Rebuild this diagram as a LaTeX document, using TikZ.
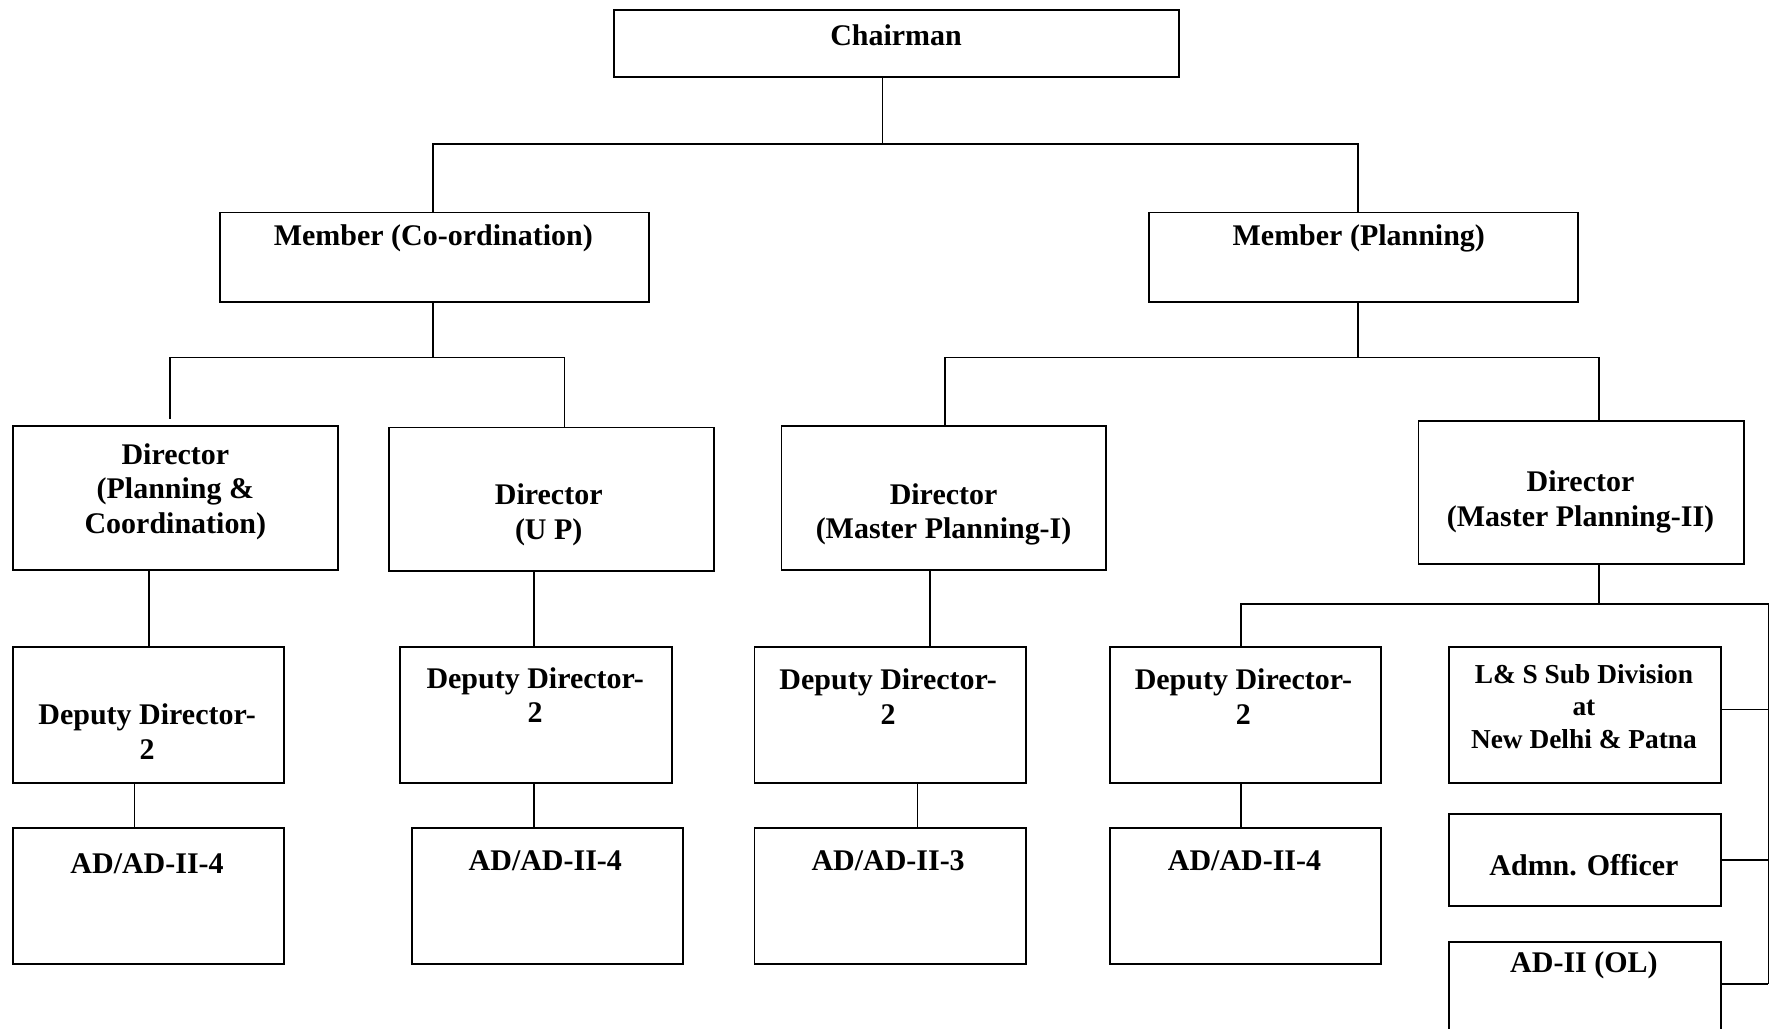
\documentclass[tikz,border=0pt]{standalone}
\usepackage{fontspec}
\setmainfont{Liberation Serif}
\begin{document}
\begin{tikzpicture}[x=1pt,y=-1pt,
  box/.style={draw, line width=1.6pt, anchor=north west, inner sep=0pt},
  txt/.style={font=\fontsize{26.5}{30.5}\selectfont\bfseries, align=center, inner sep=0pt, yshift=-3pt},
  flattxt/.style={font=\fontsize{26.5}{30.5}\selectfont\bfseries, align=center, inner sep=0pt},
  smalltxt/.style={font=\fontsize{24.2}{28.5}\selectfont\bfseries, align=center, inner sep=0pt, yshift=-2pt},
  conn/.style={line width=1.5pt}]
\useasboundingbox (0,0) rectangle (1568,909.5);
% boxes
\node[box, minimum width=499pt, minimum height=59pt] (chair) at (542,8) {};
\node[box, minimum width=379pt, minimum height=79pt] (mco) at (194,187) {};
\node[box, minimum width=379pt, minimum height=79pt] (mpl) at (1015,187) {};
\node[box, minimum width=287pt, minimum height=127pt] (dpc) at (11,376) {};
\node[box, minimum width=287pt, minimum height=127pt] (dup) at (343,377) {};
\node[box, minimum width=287pt, minimum height=127pt] (dmp1) at (690,376) {};
\node[box, minimum width=288pt, minimum height=127pt] (dmp2) at (1253,371) {};
\node[box, minimum width=239pt, minimum height=120pt] (dd1) at (11,571) {};
\node[box, minimum width=240pt, minimum height=120pt] (dd2) at (353,571) {};
\node[box, minimum width=240pt, minimum height=120pt] (dd3) at (666,571) {};
\node[box, minimum width=240pt, minimum height=120pt] (dd4) at (980,571) {};
\node[box, minimum width=239pt, minimum height=120pt] (ad1) at (11,731) {};
\node[box, minimum width=240pt, minimum height=120pt] (ad2) at (363,731) {};
\node[box, minimum width=240pt, minimum height=120pt] (ad3) at (666,731) {};
\node[box, minimum width=240pt, minimum height=120pt] (ad4) at (980,731) {};
\node[box, minimum width=240pt, minimum height=120pt] (ls) at (1280,571) {};
\node[box, minimum width=240pt, minimum height=81pt] (adm) at (1280,719) {};
\node[box, minimum width=240pt, minimum height=80pt] (ol) at (1280,832) {};
% texts
\node[flattxt] (tchair) at (792,31) {Chairman};
\node[txt] (tmco) at (383,208) {Member (Co-ordination)};
\node[txt] (tmpl) at (1201,208) {Member (Planning)};
\node[txt] (tdpc) at (155,431.5) {Director\\(Planning \&\\Coordination)};
\node[txt] (tdup) at (485,452) {Director\\(U P)};
\node[txt] (tdmp1) at (834,451.5) {Director\\(Master Planning-I)};
\node[txt] (tdmp2) at (1397,440.5) {Director\\(Master Planning-II)};
\node[txt] (tdd1) at (130,643.5) {Deputy Director-\\2};
\node[txt] (tdd2) at (473,611.5) {Deputy Director-\\2};
\node[txt] (tdd3) at (785,612.5) {Deputy Director-\\2};
\node[txt] (tdd4) at (1099,612.5) {Deputy Director-\\2};
\node[flattxt] (tad1) at (130,763) {AD/AD-II-4};
\node[flattxt] (tad2) at (482,761) {AD/AD-II-4};
\node[flattxt] (tad3) at (785,761) {AD/AD-II-3};
\node[flattxt] (tad4) at (1100,761) {AD/AD-II-4};
\node[smalltxt] (tls) at (1400,622.5) {L\& S Sub Division\\at\\New Delhi \& Patna};
\node[flattxt] (tadm) at (1400,765) {Admn. Officer};
\node[txt] (tol) at (1400,850) {AD-II (OL)};
% junction coordinates
\coordinate (j1) at (780,127);
\coordinate (jL) at (383,127);
\coordinate (jR) at (1200,127);
\coordinate (k1) at (383,316);
\coordinate (kL) at (150,316);
\coordinate (kLe) at (150,370);
\coordinate (kR) at (499,316);
\coordinate (m1) at (1200,316);
\coordinate (mL) at (835,316);
\coordinate (mR) at (1413,316);
\coordinate (n1) at (1413,534);
\coordinate (nL) at (1097,534);
\coordinate (nR) at (1563,534);
\coordinate (nB) at (1563,870);
\coordinate (nLS) at (1563,627);
\coordinate (v1) at (132,0);
\coordinate (v2) at (119,0);
\coordinate (v3) at (472,0);
\coordinate (v4) at (822,0);
\coordinate (v5) at (811,0);
\coordinate (v6) at (1097,0);
% connectors
\draw[conn] (chair.south -| j1) -- (j1);
\draw[conn] (mco.north -| jL) -- (jL) -- (jR) -- (mpl.north -| jR);
\draw[conn] (mco.south -| k1) -- (k1);
\draw[conn] (kLe) -- (kL) -- (kR) -- (dup.north -| kR);
\draw[conn] (mpl.south -| m1) -- (m1);
\draw[conn] (dmp1.north -| mL) -- (mL) -- (mR) -- (dmp2.north -| mR);
\draw[conn] (dpc.south -| v1) -- (dd1.north -| v1);
\draw[conn] (dd1.south -| v2) -- (ad1.north -| v2);
\draw[conn] (dup.south -| v3) -- (dd2.north -| v3);
\draw[conn] (dd2.south -| v3) -- (ad2.north -| v3);
\draw[conn] (dmp1.south -| v4) -- (dd3.north -| v4);
\draw[conn] (dd3.south -| v5) -- (ad3.north -| v5);
\draw[conn] (dd4.south -| v6) -- (ad4.north -| v6);
\draw[conn] (dmp2.south -| n1) -- (n1);
\draw[conn] (dd4.north -| nL) -- (nL) -- (nR) -- (nB);
\draw[conn] (ls.east |- nLS) -- (nLS);
\draw[conn] (adm.east) -- (adm.east -| nR);
\draw[conn] (ol.east |- nB) -- (nB);
\end{tikzpicture}
\end{document}
